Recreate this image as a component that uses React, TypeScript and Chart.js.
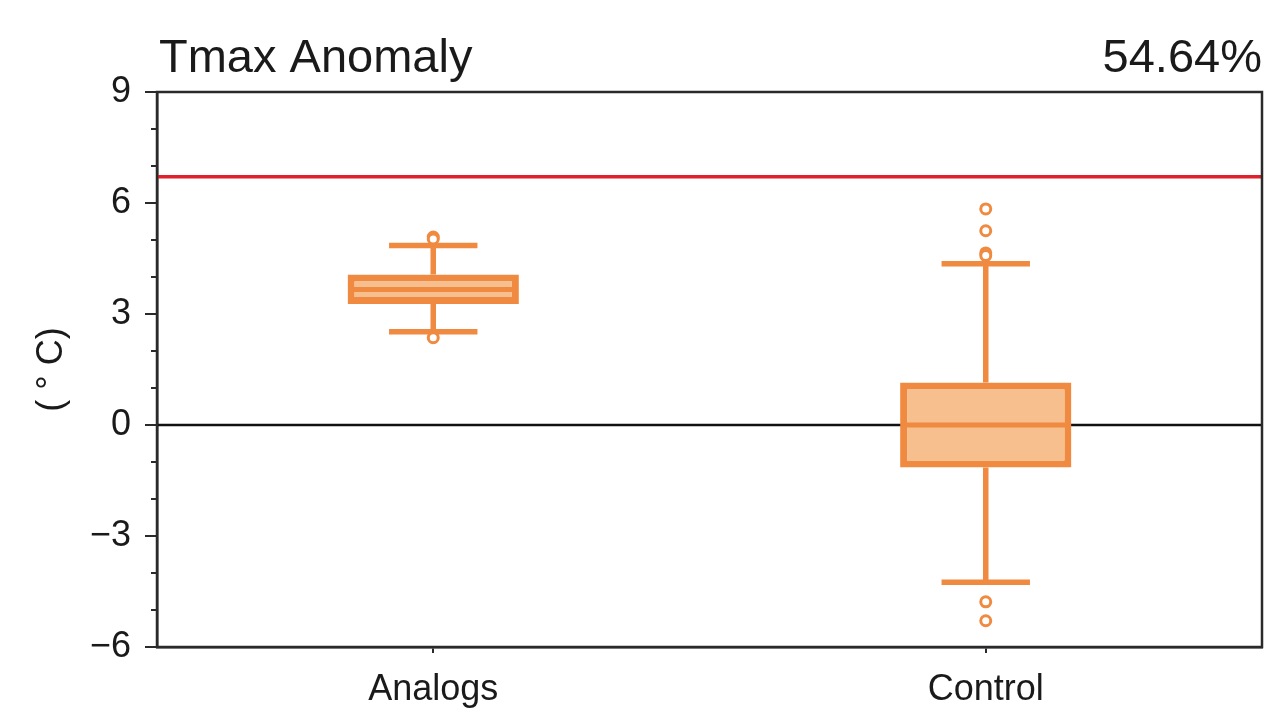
import React, { useEffect, useRef } from "react";
import { Chart, registerables } from "chart.js";

Chart.register(...registerables);

const categories = ["Analogs", "Control"];
const q1 = [3.27, -1.15];
const q3 = [4.07, 1.15];
const medians = [3.66, 0.0];
const whiskerLow = [2.52, -4.25];
const whiskerHigh = [4.85, 4.36];
const analogsOutliers = [5.08, 5.03, 2.36];
const controlOutliers = [5.84, 5.25, 4.65, 4.58, -4.78, -5.29];
const threshold = 6.71;
const yTicks = [-6, -3, 0, 3, 6, 9];
const titleLeft = "Tmax Anomaly";
const titleRight = "54.64%";
const yTitle = "( \u00B0 C)";

const ORANGE = "#f08a40";
const ORANGE_FILL = "#f7bf8e";
const AXIS = "#2a2a2a";
const FONT = "'Liberation Sans', Arial, sans-serif";

const boxPlugin = {
  id: "boxExtras",
  beforeDatasetsDraw(chart: any) {
    const { ctx, chartArea } = chart;
    const y = chart.scales.y;
    ctx.save();
    ctx.strokeStyle = "#111";
    ctx.lineWidth = 2.5;
    ctx.beginPath();
    ctx.moveTo(chartArea.left, y.getPixelForValue(0));
    ctx.lineTo(chartArea.right, y.getPixelForValue(0));
    ctx.stroke();
    ctx.strokeStyle = "#e0202a";
    ctx.lineWidth = 3.5;
    ctx.beginPath();
    ctx.moveTo(chartArea.left, y.getPixelForValue(threshold));
    ctx.lineTo(chartArea.right, y.getPixelForValue(threshold));
    ctx.stroke();
    const x = chart.scales.x;
    const catW = x.getPixelForValue(1) - x.getPixelForValue(0);
    const half = catW * 0.08;
    ctx.strokeStyle = ORANGE;
    ctx.lineWidth = 5.5;
    categories.forEach((_, i) => {
      const cx = x.getPixelForValue(i);
      ctx.beginPath();
      ctx.moveTo(cx, y.getPixelForValue(q3[i]));
      ctx.lineTo(cx, y.getPixelForValue(whiskerHigh[i]));
      ctx.moveTo(cx, y.getPixelForValue(q1[i]));
      ctx.lineTo(cx, y.getPixelForValue(whiskerLow[i]));
      ctx.moveTo(cx - half, y.getPixelForValue(whiskerHigh[i]));
      ctx.lineTo(cx + half, y.getPixelForValue(whiskerHigh[i]));
      ctx.moveTo(cx - half, y.getPixelForValue(whiskerLow[i]));
      ctx.lineTo(cx + half, y.getPixelForValue(whiskerLow[i]));
      ctx.stroke();
    });
    ctx.restore();
  },
  afterDatasetsDraw(chart: any) {
    const { ctx, chartArea } = chart;
    const x = chart.scales.x;
    const y = chart.scales.y;
    const catW = x.getPixelForValue(1) - x.getPixelForValue(0);
    const half = catW * 0.31 / 2;
    ctx.save();
    ctx.strokeStyle = ORANGE;
    ctx.lineWidth = 5;
    categories.forEach((_, i) => {
      const cx = x.getPixelForValue(i);
      const my = y.getPixelForValue(medians[i]);
      ctx.beginPath();
      ctx.moveTo(cx - half + 2, my);
      ctx.lineTo(cx + half - 2, my);
      ctx.stroke();
    });
    ctx.strokeStyle = AXIS;
    ctx.lineWidth = 2.5;
    ctx.strokeRect(chartArea.left, chartArea.top, chartArea.right - chartArea.left, chartArea.bottom - chartArea.top);
    ctx.lineWidth = 2;
    ctx.beginPath();
    for (let v = -6; v <= 9; v++) {
      if (v % 3 === 0) continue;
      const py = y.getPixelForValue(v);
      ctx.moveTo(chartArea.left - 6, py);
      ctx.lineTo(chartArea.left, py);
    }
    ctx.stroke();
    ctx.fillStyle = "#1a1a1a";
    ctx.font = `47px ${FONT}`;
    ctx.textBaseline = "alphabetic";
    ctx.textAlign = "left";
    ctx.fillText(titleLeft, chartArea.left + 2, 72);
    ctx.textAlign = "right";
    ctx.fillText(titleRight, chartArea.right, 72);
    ctx.restore();
  },
};

export default function App() {
  const ref = useRef<HTMLCanvasElement>(null);
  useEffect(() => {
    if (!ref.current) return;
    const chart = new Chart(ref.current, {
      type: "bar",
      data: {
        labels: categories,
        datasets: [
          {
            type: "bar",
            data: categories.map((_, i) => [q1[i], q3[i]]),
            backgroundColor: ORANGE_FILL,
            borderColor: ORANGE,
            borderWidth: 7,
            borderSkipped: false,
            barPercentage: 0.31,
            categoryPercentage: 1,
          } as any,
          {
            type: "line",
            data: [
              ...analogsOutliers.map((v) => ({ x: categories[0], y: v })),
              ...controlOutliers.map((v) => ({ x: categories[1], y: v })),
            ],
            showLine: false,
            pointStyle: "circle",
            pointRadius: 5,
            pointBorderWidth: 3,
            pointBorderColor: ORANGE,
            pointBackgroundColor: "#ffffff",
          } as any,
        ],
      },
      options: {
        animation: false,
        responsive: true,
        maintainAspectRatio: false,
        layout: { padding: { top: 92, right: 7, left: 0, bottom: 0 } },
        plugins: { legend: { display: false }, tooltip: { enabled: false }, title: { display: false } },
        scales: {
          x: {
            type: "category",
            offset: true,
            grid: { display: true, drawOnChartArea: false, tickLength: 6, color: AXIS, lineWidth: 2, offset: false },
            border: { display: true, color: AXIS, width: 2.5 },
            ticks: { font: { size: 36, family: FONT }, color: "#1a1a1a", padding: 15 },
            afterFit: (s: any) => { s.height = 64; },
          },
          y: {
            min: -6,
            max: 9,
            afterBuildTicks: (s: any) => { s.ticks = yTicks.map((v) => ({ value: v })); },
            grid: { display: true, drawOnChartArea: false, tickLength: 12, color: AXIS, lineWidth: 2 },
            border: { display: true, color: AXIS, width: 2.5 },
            ticks: {
              font: { size: 36, family: FONT },
              color: "#1a1a1a",
              padding: 14,
              callback: (v: any) => (Number(v) < 0 ? "\u2212" + Math.abs(Number(v)) : String(v)),
            },
            title: { display: true, text: yTitle, font: { size: 36, family: FONT }, color: "#1a1a1a", padding: { top: 30, bottom: 0 } },
            afterFit: (s: any) => { s.width = 157; },
          },
        },
      } as any,
      plugins: [boxPlugin],
    });
    return () => chart.destroy();
  }, []);
  return (
    <div style={{ position: "fixed", left: 0, top: 0, width: 1270, height: 711, background: "#fff" }}>
      <canvas ref={ref} />
    </div>
  );
}
